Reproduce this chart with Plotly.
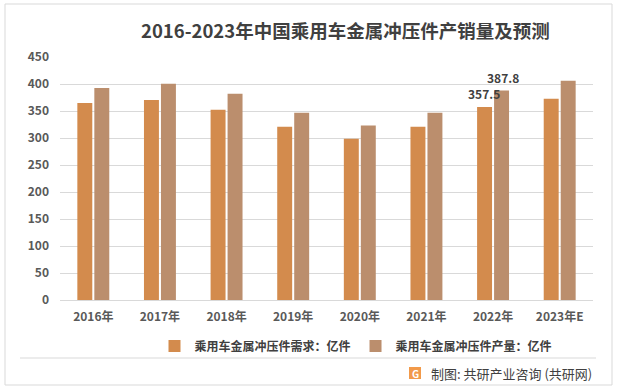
import plotly.graph_objects as go

categories = ["2016年", "2017年", "2018年", "2019年", "2020年", "2021年", "2022年", "2023年E"]
demand = [364.8, 370.6, 352.4, 320.9, 298.6, 320.9, 357.5, 372.6]
production = [392.6, 400.3, 382.0, 346.8, 323.1, 346.8, 387.8, 405.8]
demand_labels = ["", "", "", "", "", "", "357.5", ""]
production_labels = ["", "", "", "", "", "", "387.8", ""]
y_ticks = [0, 50, 100, 150, 200, 250, 300, 350, 400, 450]

name_demand = "乘用车金属冲压件需求：亿件"
name_production = "乘用车金属冲压件产量：亿件"
title_text = "2016-2023年中国乘用车金属冲压件产销量及预测"
source_text = "制图: 共研产业咨询 (共研网)"

FONT = "Noto Sans CJK SC"
W, H = 618, 390
L, R, T, B = 60, 25, 57, 90
PW = W - L - R
PH = H - T - B


def px(x):
    return (x - L) / PW


def py(y):
    return (H - B - y) / PH


fig = go.Figure()
fig.add_trace(go.Bar(
    x=categories, y=demand, name=name_demand,
    marker=dict(color="#D38B4D", line=dict(width=0)),
))
fig.add_trace(go.Bar(
    x=categories, y=production, name=name_production,
    marker=dict(color="#BB8E6D", line=dict(width=0)),
))

# value labels (drawn on top of all bars)
label_font = dict(family=FONT, size=12, color="#404040", weight="bold")
for labels, values, shift in ((demand_labels, demand, -9.5), (production_labels, production, 9.5)):
    for cat, lab, val in zip(categories, labels, values):
        if lab:
            fig.add_annotation(
                text=lab, x=cat, y=val, xref="x", yref="y", xshift=shift, yshift=3,
                xanchor="center", yanchor="bottom", showarrow=False, font=label_font,
            )

fig.update_layout(
    width=W, height=H,
    margin=dict(l=L, r=R, t=T, b=B),
    paper_bgcolor="white", plot_bgcolor="white",
    barmode="group", bargap=0.49, bargroupgap=0.12,
    font=dict(family=FONT, color="#595959"),
    showlegend=True,
    legend=dict(
        orientation="h", x=px(356), xanchor="center", y=py(346), yanchor="middle",
        font=dict(family=FONT, size=12, color="#404040", weight="bold"),
        itemwidth=30, traceorder="normal", bgcolor="rgba(0,0,0,0)",
    ),
)

fig.update_xaxes(
    showgrid=False, showline=False, zeroline=False, ticks="",
    tickfont=dict(family=FONT, size=12, color="#595959", weight="bold"),
    ticklabelstandoff=8,
)
fig.update_yaxes(
    range=[0, 450], tickvals=y_ticks, showgrid=True, gridcolor="#D9D9D9", gridwidth=1,
    zeroline=True, zerolinecolor="#D9D9D9", zerolinewidth=1, showline=False, ticks="",
    tickfont=dict(family=FONT, size=12, color="#595959", weight="bold"),
    ticklabelstandoff=10,
)

# title
fig.add_annotation(
    text=title_text, xref="paper", yref="paper", x=px(345), y=py(30),
    xanchor="center", yanchor="middle", showarrow=False,
    font=dict(family=FONT, size=18.5, color="#404040", weight="bold"),
)

# outer border
fig.add_shape(type="rect", xref="paper", yref="paper",
              x0=px(5), x1=px(612), y0=py(385), y1=py(4),
              line=dict(color="#D9D9D9", width=1), fillcolor="rgba(0,0,0,0)", layer="below")
# separator
fig.add_shape(type="line", xref="paper", yref="paper",
              x0=px(20), x1=px(596), y0=py(358), y1=py(358),
              line=dict(color="#D9D9D9", width=1))

# source logo
fig.add_shape(type="rect", xref="paper", yref="paper",
              x0=px(409), x1=px(421), y0=py(379), y1=py(367),
              line=dict(width=0), fillcolor="#F29A4A")
fig.add_annotation(
    text="G", xref="paper", yref="paper", x=px(415), y=py(373),
    xanchor="center", yanchor="middle", showarrow=False,
    font=dict(family=FONT, size=10, color="white", weight="bold"),
)
fig.add_annotation(
    text=source_text, xref="paper", yref="paper", x=px(594), y=py(373),
    xanchor="right", yanchor="middle", showarrow=False,
    font=dict(family=FONT, size=13, color="#404040"),
)

fig.write_html(
    "out.html",
    config={"displayModeBar": False},
    post_script="document.body.style.margin='0';document.body.style.overflow='hidden';",
)
